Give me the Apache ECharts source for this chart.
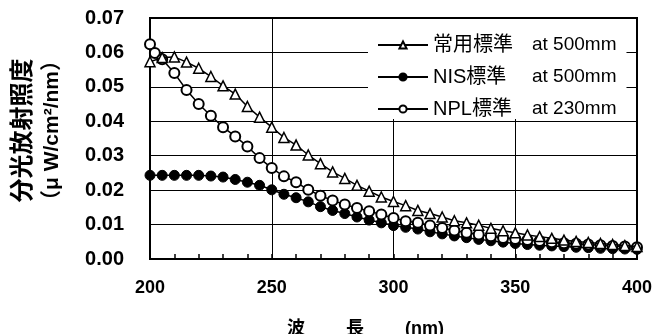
<!DOCTYPE html>
<html>
<head>
<meta charset="utf-8">
<script src="https://cdn.jsdelivr.net/npm/echarts@6/dist/echarts.min.js"></script>
<style>
html,body{margin:0;padding:0;background:#fff;}
#chart{width:664px;height:334px;}
</style>
</head>
<body>
<div id="chart"></div>
<script>
// ---- data ----
var wavelengths = [200,205,210,215,220,225,230,235,240,245,250,255,260,265,270,275,280,285,290,295,300,
  305,310,315,320,325,330,335,340,345,350,355,360,365,370,375,380,385,390,395,400];
var nplWavelengths = [200,202,205,210,215,220,225,230,235,240,245,250,255,260,265,270,275,280,285,290,295,300,
  305,310,315,320,325,330,335,340,345,350,355,360,365,370,375,380,385,390,395,400];

var seriesNames = ['常用標準', 'NIS標準', 'NPL標準'];
var seriesNotes = ['at 500mm', 'at 500mm', 'at 230mm'];

var commonStd = [0.0573,0.0585,0.0587,0.0572,0.0554,0.0530,0.0503,0.0479,0.0443,0.0412,0.0383,0.0353,0.0331,0.0302,
  0.0277,0.0253,0.0234,0.0214,0.0197,0.0180,0.0167,0.0155,0.0141,0.0132,0.0122,0.0111,0.0105,0.0098,0.0089,0.0082,
  0.0076,0.0070,0.0065,0.0060,0.0055,0.0051,0.0048,0.0045,0.0042,0.0039,0.0036];
var nisStd = [0.0243,0.0243,0.0243,0.0243,0.0243,0.0241,0.0238,0.0231,0.0223,0.0214,0.0201,0.0188,0.0178,0.0166,
  0.0152,0.0141,0.0132,0.0122,0.0113,0.0105,0.0097,0.0092,0.0087,0.0079,0.0073,0.0067,0.0062,0.0057,0.0053,0.0049,
  0.0045,0.0042,0.0040,0.0038,0.0036,0.0034,0.0033,0.0031,0.0030,0.0029,0.0028];
var nplStd = [0.0624,0.0598,0.0580,0.0540,0.0491,0.0450,0.0416,0.0383,0.0356,0.0327,0.0293,0.0264,0.0240,0.0223,
  0.0201,0.0184,0.0170,0.0158,0.0148,0.0139,0.0129,0.0119,0.0110,0.0105,0.0097,0.0090,0.0083,0.0076,0.0071,0.0066,
  0.0061,0.0058,0.0055,0.0052,0.0049,0.0046,0.0044,0.0042,0.0040,0.0038,0.0036,0.0034];

var xTicks = [200, 250, 300, 350, 400];
var yTicks = [0, 0.01, 0.02, 0.03, 0.04, 0.05, 0.06, 0.07];

var xName = '波\u3000\u3000 長\u3000\u3000 (nm)';
var yName1 = '分光放射照度';
var yName2 = '（μ W/cm²/nm）';

function pairs(xs, ys) { return xs.map(function (x, i) { return [x, ys[i]]; }); }
var fullNames = seriesNames.map(function (n, i) { return n + '  ' + seriesNotes[i]; });

var FONT = '"Liberation Sans", "Noto Sans CJK JP", sans-serif';

var chart = echarts.init(document.getElementById('chart'), null, {renderer: 'canvas'});
chart.setOption({
  animation: false,
  backgroundColor: '#fff',
  grid: {left: 150, right: 27, top: 18, bottom: 75, containLabel: false, outerBoundsMode: 'none',
    show: true, borderColor: '#000', borderWidth: 2, backgroundColor: 'transparent'},
  legend: {
    data: fullNames,
    orient: 'vertical',
    left: 368, top: 19,
    padding: [16, 10, 0, 9],
    itemGap: 12,
    itemWidth: 50,
    itemHeight: 9,
    backgroundColor: '#fff',
    formatter: function (name) {
      var i = fullNames.indexOf(name);
      return '{c|' + seriesNames[i] + '}{l|' + seriesNotes[i] + '}';
    },
    textStyle: {
      color: '#000',
      rich: {
        c: {fontFamily: FONT, fontSize: 20, width: 99, color: '#000', lineHeight: 20},
        l: {fontFamily: FONT, fontSize: 19, color: '#000', lineHeight: 20}
      }
    }
  },
  xAxis: {
    type: 'value', min: xTicks[0], max: xTicks[xTicks.length - 1], interval: 50,
    name: xName, nameLocation: 'middle', nameGap: 61,
    nameTextStyle: {fontFamily: FONT, fontSize: 18, fontWeight: 'bold', color: '#000', padding: [0, 56, 0, 0]},
    axisLine: {show: true, lineStyle: {color: '#000', width: 2}},
    axisTick: {show: true, inside: true, length: 5, lineStyle: {color: '#000', width: 1.5}},
    minorTick: {show: true, splitNumber: 5, length: 5, lineStyle: {color: '#000', width: 1.5}},
    axisLabel: {margin: 20, fontFamily: FONT, fontSize: 18, fontWeight: 'bold', color: '#000'},
    splitLine: {show: true, lineStyle: {color: '#000', width: 1}}
  },
  yAxis: {
    type: 'value', min: yTicks[0], max: yTicks[yTicks.length - 1], interval: 0.01,
    name: '{a|' + yName1 + '}\n{b|' + yName2 + '}', nameLocation: 'middle', nameGap: 83,
    nameTextStyle: {
      color: '#000', padding: [0, 0, 0, 16],
      rich: {
        a: {fontFamily: FONT, fontSize: 24, fontWeight: 'bold', color: '#000', lineHeight: 29, width: 150, align: 'center'},
        b: {fontFamily: FONT, fontSize: 21, fontWeight: 'bold', color: '#000', lineHeight: 29, width: 150, align: 'center'}
      }
    },
    axisLine: {show: true, lineStyle: {color: '#000', width: 2}},
    axisTick: {show: false},
    axisLabel: {margin: 26, fontFamily: FONT, fontSize: 20, fontWeight: 'bold', color: '#000',
      formatter: function (v) { return v.toFixed(2); }},
    splitLine: {show: true, lineStyle: {color: '#000', width: 1}}
  },
  series: [
    {
      name: fullNames[1], type: 'line', z: 2,
      data: pairs(wavelengths, nisStd),
      symbol: 'circle', symbolSize: 10,
      lineStyle: {color: '#000', width: 1.5},
      itemStyle: {color: '#000', borderColor: '#000', borderWidth: 1}
    },
    {
      name: fullNames[2], type: 'line', z: 3,
      data: pairs(nplWavelengths, nplStd),
      symbol: 'circle', symbolSize: 10,
      lineStyle: {color: '#000', width: 1.5},
      itemStyle: {color: '#fff', borderColor: '#000', borderWidth: 2}
    },
    {
      name: fullNames[0], type: 'line', z: 4,
      data: pairs(wavelengths, commonStd),
      symbol: 'triangle', symbolSize: 10,
      lineStyle: {color: '#000', width: 1.5},
      itemStyle: {color: '#fff', borderColor: '#000', borderWidth: 1.5}
    }
  ]
});
</script>
</body>
</html>
